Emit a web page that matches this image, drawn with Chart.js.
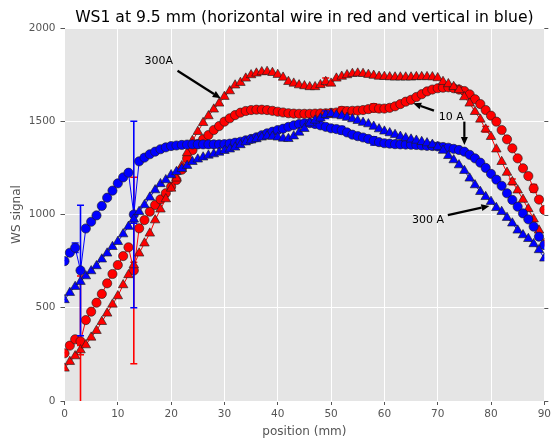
<!DOCTYPE html>
<html>
<head>
<meta charset="utf-8">
<script src="https://cdn.jsdelivr.net/npm/chart.js@4.4.0/dist/chart.umd.min.js"></script>
<style>
html,body{margin:0;padding:0;background:#fff;}
#wrap{width:554px;height:442px;}
</style>
</head>
<body>
<div id="wrap"><canvas id="c" width="554" height="442"></canvas></div>
<script>
// positions (mm)
const positions = [0,1,2,3,4,5,6,7,8,9,10,11,12,13,14,15,16,17,18,19,20,21,22,23,24,25,26,27,28,29,30,31,32,33,34,35,36,37,38,39,40,41,42,43,44,45,46,47,48,49,50,51,52,53,54,55,56,57,58,59,60,61,62,63,64,65,66,67,68,69,70,71,72,73,74,75,76,77,78,79,80,81,82,83,84,85,86,87,88,89,90];

// horizontal wire (red), 10 A – circles
const redCircles = [256,297,331,320,434,479,527,574,631,681,729,777,824,700,926,970,1015,1051,1081,1114,1149,1185,1240,1300,1345,1378,1403,1426,1453,1474,1498,1516,1533,1546,1555,1560,1562,1562,1560,1556,1551,1547,1543,1541,1540,1540,1540,1541,1542,1543,1545,1547,1556,1555,1556,1557,1560,1565,1572,1568,1568,1572,1580,1592,1605,1615,1630,1645,1660,1670,1677,1680,1682,1677,1670,1662,1644,1618,1592,1560,1530,1498,1453,1403,1355,1301,1248,1206,1140,1080,1024];
// horizontal wire (red), 300 A – triangles
const redTriangles = [175,211,241,273,300,341,377,425,470,518,563,622,676,729,792,846,899,970,1028,1083,1140,1194,1260,1330,1396,1444,1492,1528,1564,1596,1632,1662,1693,1707,1730,1748,1757,1764,1766,1760,1750,1735,1712,1703,1694,1689,1684,1684,1695,1712,1703,1730,1740,1748,1755,1757,1755,1750,1745,1740,1739,1737,1736,1736,1736,1736,1738,1738,1738,1737,1732,1712,1700,1685,1668,1630,1596,1551,1510,1457,1417,1350,1283,1225,1175,1130,1080,1030,975,915,845];
// vertical wire (blue), 10 A – circles
const blueCircles = [750,795,822,700,925,961,995,1046,1090,1128,1167,1199,1224,1000,1285,1305,1323,1337,1350,1360,1367,1370,1373,1375,1376,1376,1376,1376,1376,1376,1377,1380,1385,1390,1398,1405,1414,1425,1435,1444,1453,1460,1470,1478,1485,1489,1490,1485,1478,1470,1462,1458,1452,1440,1428,1420,1413,1405,1395,1388,1382,1380,1377,1376,1375,1374,1373,1370,1368,1367,1365,1362,1358,1352,1346,1337,1320,1301,1278,1250,1218,1187,1154,1114,1078,1042,1006,974,935,881,836];
// vertical wire (blue), 300 A – triangles
const blueTriangles = [542,581,613,640,670,697,724,760,792,827,854,895,935,974,1015,1051,1092,1131,1164,1185,1212,1229,1245,1262,1283,1296,1307,1317,1324,1333,1342,1350,1360,1373,1388,1398,1405,1414,1420,1418,1414,1408,1406,1420,1440,1460,1490,1505,1516,1535,1540,1533,1528,1520,1512,1503,1493,1485,1472,1458,1446,1437,1428,1418,1410,1403,1397,1390,1383,1375,1362,1343,1315,1292,1265,1235,1194,1158,1122,1095,1069,1036,1015,983,953,915,890,870,842,810,765];

// error bars (position -> half-width), only where visible
const redCirclesErr = {3:350, 13:500, 52:20, 58:22, 88:20};
const redTrianglesErr = {3:25, 13:15, 49:20, 79:15, 84:15};
const blueCirclesErr = {2:25, 3:350, 13:500, 52:20, 58:22};
const blueTrianglesErr = {13:20, 49:20};

const xTicks = [0,10,20,30,40,50,60,70,80,90];
const yTicks = [0,500,1000,1500,2000];

const titleText = 'WS1 at 9.5 mm (horizontal wire in red and vertical in blue)';

const FONT = "'DejaVu Sans', sans-serif";

function toXY(arr){ return positions.map((p,i)=>({x:p,y:arr[i]})); }

const annotations = [
  {text:'300A', x:15.0, y:1823, ax:[21.2,1771,29.3,1623]},
  {text:'10 A', x:70.2, y:1523, ax:[69.3,1557,65.4,1596]},
  {text:null, ax:[75.0,1498,75.0,1373]},
  {text:'300 A', x:65.2, y:971, ax:[71.9,997,79.7,1046]}
];

const bgPlugin = {
  id:'bg',
  beforeDraw(chart){
    const {ctx, chartArea:a} = chart;
    ctx.save();
    ctx.fillStyle = '#E5E5E5';
    ctx.fillRect(a.left, a.top, a.right-a.left, a.bottom-a.top);
    ctx.restore();
  },
  afterDraw(chart){
    const {ctx, chartArea:a, scales} = chart;
    // title centred over the plot area
    ctx.save();
    ctx.font = "15.6px " + FONT;
    ctx.fillStyle = '#000';
    ctx.textAlign = 'center';
    ctx.textBaseline = 'alphabetic';
    ctx.fillText(titleText, (a.left + a.right)/2, a.top - 6);
    ctx.restore();
    // right-side ticks
    ctx.save();
    ctx.strokeStyle = '#555';
    ctx.lineWidth = 1;
    yTicks.forEach(v=>{
      const py = Math.round(scales.y.getPixelForValue(v))+0.5;
      ctx.beginPath(); ctx.moveTo(a.right, py); ctx.lineTo(a.right+4, py); ctx.stroke();
    });
    ctx.restore();
    // annotations
    ctx.save();
    ctx.font = "11px " + FONT;
    ctx.fillStyle = '#000';
    ctx.textBaseline = 'middle';
    annotations.forEach(an=>{
      if (an.text){
        ctx.fillText(an.text, scales.x.getPixelForValue(an.x), scales.y.getPixelForValue(an.y));
      }
      const x0 = scales.x.getPixelForValue(an.ax[0]), y0 = scales.y.getPixelForValue(an.ax[1]);
      const x1 = scales.x.getPixelForValue(an.ax[2]), y1 = scales.y.getPixelForValue(an.ax[3]);
      const ang = Math.atan2(y1-y0, x1-x0);
      const hl = 8, hw = 3.5;
      const bx = x1 - hl*Math.cos(ang), by = y1 - hl*Math.sin(ang);
      ctx.strokeStyle = '#000'; ctx.lineWidth = 2.2;
      ctx.beginPath(); ctx.moveTo(x0,y0); ctx.lineTo(bx,by); ctx.stroke();
      ctx.beginPath();
      ctx.moveTo(x1,y1);
      ctx.lineTo(bx + hw*Math.sin(ang), by - hw*Math.cos(ang));
      ctx.lineTo(bx - hw*Math.sin(ang), by + hw*Math.cos(ang));
      ctx.closePath(); ctx.fill();
    });
    ctx.restore();
  }
};

const errPlugin = {
  id:'err',
  beforeDatasetDraw(chart, args){
    const ds = chart.data.datasets[args.index];
    if (!ds.errors) return;
    const {ctx, chartArea:a, scales} = chart;
    ctx.save();
    ctx.beginPath(); ctx.rect(a.left, a.top, a.right-a.left, a.bottom-a.top); ctx.clip();
    ctx.strokeStyle = ds.borderColor; ctx.lineWidth = 1.6;
    Object.keys(ds.errors).forEach(k=>{
      const i = positions.indexOf(Number(k));
      const e = ds.errors[k];
      const px = scales.x.getPixelForValue(positions[i]);
      const yt = scales.y.getPixelForValue(ds.data[i].y + e);
      const yb = scales.y.getPixelForValue(ds.data[i].y - e);
      ctx.beginPath();
      ctx.moveTo(px, yt); ctx.lineTo(px, yb);
      ctx.moveTo(px-3.5, yt); ctx.lineTo(px+3.5, yt);
      ctx.moveTo(px-3.5, yb); ctx.lineTo(px+3.5, yb);
      ctx.stroke();
    });
    ctx.restore();
  }
};

function mkDs(label, arr, color, style, err){
  return {
    label, data: toXY(arr), errors: err,
    borderColor: color, borderWidth: 1,
    backgroundColor: color,
    pointBackgroundColor: color,
    pointBorderColor: 'rgba(30,30,30,0.8)',
    pointBorderWidth: 0.8,
    pointStyle: style,
    pointRadius: style === 'triangle' ? 5.5 : 4.6,
    pointHoverRadius: 5,
    showLine: true, tension: 0, clip: 0
  };
}

new Chart(document.getElementById('c'), {
  type: 'line',
  data: {
    datasets: [
      mkDs('vertical 300 A', blueTriangles, '#0000FF', 'triangle', blueTrianglesErr),
      mkDs('vertical 10 A', blueCircles, '#0000FF', 'circle', blueCirclesErr),
      mkDs('horizontal 300 A', redTriangles, '#FF0000', 'triangle', redTrianglesErr),
      mkDs('horizontal 10 A', redCircles, '#FF0000', 'circle', redCirclesErr)
    ]
  },
  options: {
    responsive: false,
    animation: false,
    devicePixelRatio: 1,
    layout: {padding: {left: 0, right: 7, top: 28, bottom: 0}},
    plugins: {
      legend: {display: false},
      tooltip: {enabled: false},
      title: {display: false}
    },
    scales: {
      x: {
        type: 'linear', min: 0, max: 90,
        afterBuildTicks(s){ s.ticks = xTicks.map(v=>({value:v})); },
        afterFit(s){ s.height = 41; },
        grid: {color: '#FFFFFF', lineWidth: 1, tickColor: '#555', tickLength: 4},
        border: {display: false},
        ticks: {color: '#555', font: {family: FONT, size: 10.5}, padding: 3, maxRotation: 0,
                callback: v => String(v)},
        title: {display: true, text: 'position (mm)', color: '#555', font: {family: FONT, size: 12}, padding: {top: 0, bottom: 2.8}}
      },
      y: {
        type: 'linear', min: 0, max: 2000,
        afterBuildTicks(s){ s.ticks = yTicks.map(v=>({value:v})); },
        afterFit(s){ s.width = 64.5; },
        grid: {color: '#FFFFFF', lineWidth: 1, tickColor: '#555', tickLength: 4},
        border: {display: false},
        ticks: {color: '#555', font: {family: FONT, size: 10.5}, padding: 5,
                callback: v => String(v)},
        title: {display: true, text: 'WS signal', color: '#555', font: {family: FONT, size: 12}, padding: {top: 9.8, bottom: 0}}
      }
    }
  },
  plugins: [bgPlugin, errPlugin]
});
</script>
</body>
</html>
